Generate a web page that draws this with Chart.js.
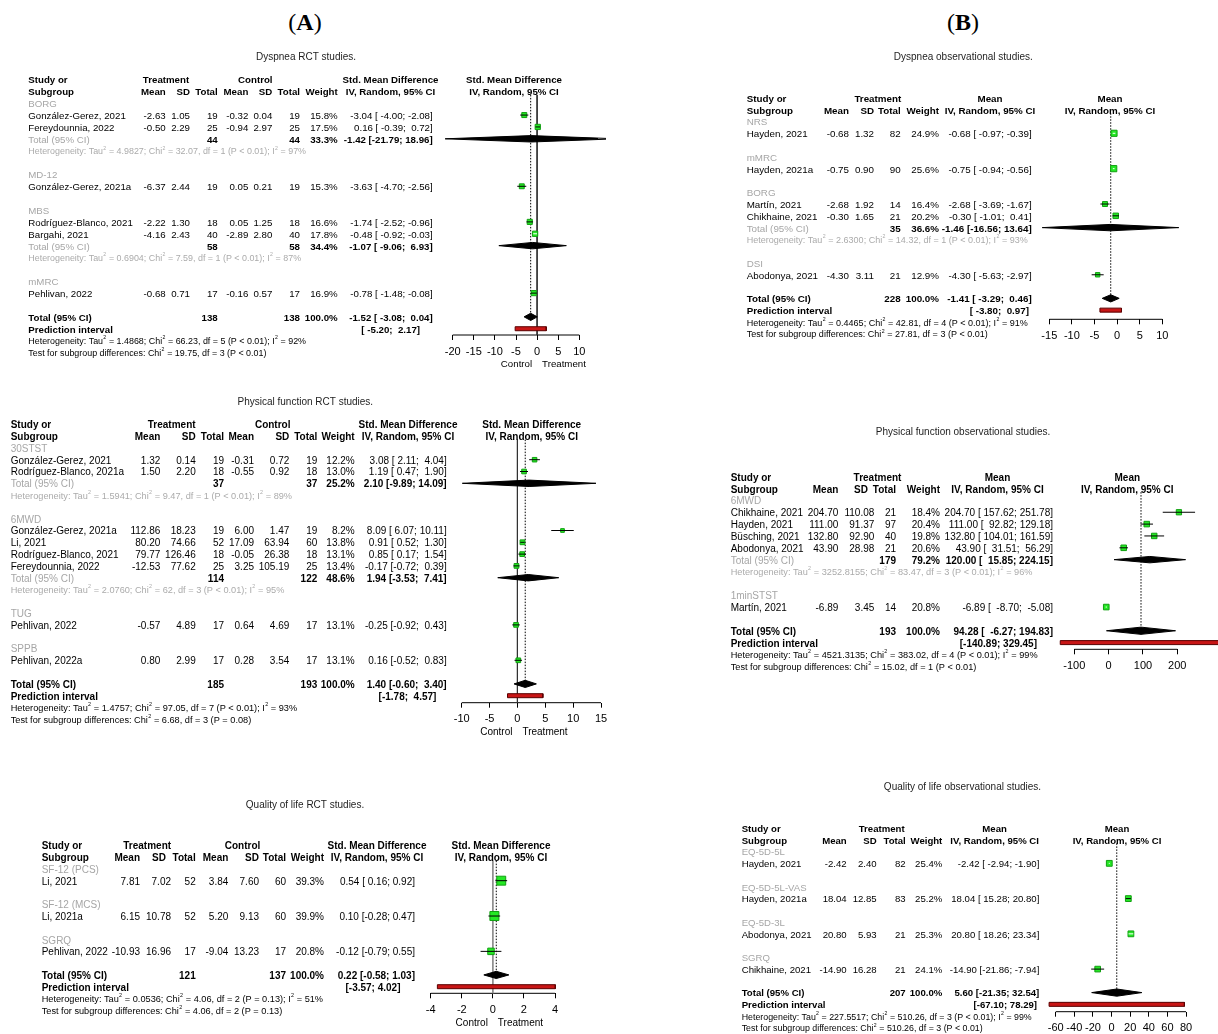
<!DOCTYPE html>
<html lang="en">
<head>
<meta charset="utf-8">
<title>Forest plots: RCT and observational studies</title>
<script src="https://cdn.jsdelivr.net/npm/chart.js@4.4.1/dist/chart.umd.min.js"></script>
<style>
  html, body { margin: 0; padding: 0; background: #fff; }
  body { width: 1218px; height: 1034px; position: relative; overflow: hidden; }
  canvas { position: absolute; }
  .tag { position: absolute; top: 9px; transform: translateX(-50%);
         font-family: "Liberation Serif", "Times New Roman", serif; font-size: 24px; line-height: 26px; color: #000; }
  .tag b { font-weight: bold; }
</style>
</head>
<body>
<div class="tag" style="left:305px">(<b>A</b>)</div>
<div class="tag" style="left:963px">(<b>B</b>)</div>
<canvas id="dysRct"></canvas>
<canvas id="pfRct"></canvas>
<canvas id="qolRct"></canvas>
<canvas id="dysObs"></canvas>
<canvas id="pfObs"></canvas>
<canvas id="qolObs"></canvas>
<script>
// ---------- Dyspnea, RCT studies ----------
const dysRctGroups = ['BORG', 'MD-12', 'MBS', 'mMRC'];
const dysRctStudies = ['González-Gerez, 2021', 'Fereydounnia, 2022', 'González-Gerez, 2021a', 'Rodríguez-Blanco, 2021', 'Bargahi, 2021', 'Pehlivan, 2022'];
const dysRctStudyGroup = [0, 0, 1, 2, 2, 3];
const dysRctTrtMean = [-2.63, -0.50, -6.37, -2.22, -4.16, -0.68];
const dysRctTrtSd = [1.05, 2.29, 2.44, 1.30, 2.43, 0.71];
const dysRctTrtN = [19, 25, 19, 18, 40, 17];
const dysRctCtlMean = [-0.32, -0.94, 0.05, 0.05, -2.89, -0.16];
const dysRctCtlSd = [0.04, 2.97, 0.21, 1.25, 2.80, 0.57];
const dysRctCtlN = [19, 25, 19, 18, 40, 17];
const dysRctWeight = [15.8, 17.5, 15.3, 16.6, 17.8, 16.9];
const dysRctEst = [-3.04, 0.16, -3.63, -1.74, -0.48, -0.78];
const dysRctLower = [-4.00, -0.39, -4.70, -2.52, -0.92, -1.48];
const dysRctUpper = [-2.08, 0.72, -2.56, -0.96, -0.03, -0.08];
const dysRctSubTrtN = [44, null, 58, null];
const dysRctSubCtlN = [44, null, 58, null];
const dysRctSubWeight = [33.3, null, 34.4, null];
const dysRctSubEst = [-1.42, null, -1.07, null];
const dysRctSubLower = [-21.79, null, -9.06, null];
const dysRctSubUpper = [18.96, null, 6.93, null];
const dysRctSubHet = ['Tau^2 = 4.9827; Chi^2 = 32.07, df = 1 (P < 0.01); I^2 = 97%', null,
                      'Tau^2 = 0.6904; Chi^2 = 7.59, df = 1 (P < 0.01); I^2 = 87%', null];
const dysRctTotalN = [138, 138];
const dysRctOverall = [-1.52, -3.08, 0.04];
const dysRctPredict = [-5.20, 2.17];
const dysRctHet = 'Tau^2 = 1.4868; Chi^2 = 66.23, df = 5 (P < 0.01); I^2 = 92%';
const dysRctTest = 'Chi^2 = 19.75, df = 3 (P < 0.01)';
const dysRctTicks = [-20, -15, -10, -5, 0, 5, 10];

// ---------- Physical function, RCT studies ----------
const pfRctGroups = ['30STST', '6MWD', 'TUG', 'SPPB'];
const pfRctStudies = ['González-Gerez, 2021', 'Rodríguez-Blanco, 2021a', 'González-Gerez, 2021a', 'Li, 2021', 'Rodríguez-Blanco, 2021', 'Fereydounnia, 2022', 'Pehlivan, 2022', 'Pehlivan, 2022a'];
const pfRctStudyGroup = [0, 0, 1, 1, 1, 1, 2, 3];
const pfRctTrtMean = [1.32, 1.50, 112.86, 80.20, 79.77, -12.53, -0.57, 0.80];
const pfRctTrtSd = [0.14, 2.20, 18.23, 74.66, 126.46, 77.62, 4.89, 2.99];
const pfRctTrtN = [19, 18, 19, 52, 18, 25, 17, 17];
const pfRctCtlMean = [-0.31, -0.55, 6.00, 17.09, -0.05, 3.25, 0.64, 0.28];
const pfRctCtlSd = [0.72, 0.92, 1.47, 63.94, 26.38, 105.19, 4.69, 3.54];
const pfRctCtlN = [19, 18, 19, 60, 18, 25, 17, 17];
const pfRctWeight = [12.2, 13.0, 8.2, 13.8, 13.1, 13.4, 13.1, 13.1];
const pfRctEst = [3.08, 1.19, 8.09, 0.91, 0.85, -0.17, -0.25, 0.16];
const pfRctLower = [2.11, 0.47, 6.07, 0.52, 0.17, -0.72, -0.92, -0.52];
const pfRctUpper = [4.04, 1.90, 10.11, 1.30, 1.54, 0.39, 0.43, 0.83];
const pfRctSubTrtN = [37, 114, null, null];
const pfRctSubCtlN = [37, 122, null, null];
const pfRctSubWeight = [25.2, 48.6, null, null];
const pfRctSubEst = [2.10, 1.94, null, null];
const pfRctSubLower = [-9.89, -3.53, null, null];
const pfRctSubUpper = [14.09, 7.41, null, null];
const pfRctSubHet = ['Tau^2 = 1.5941; Chi^2 = 9.47, df = 1 (P < 0.01); I^2 = 89%',
                     'Tau^2 = 2.0760; Chi^2 = 62, df = 3 (P < 0.01); I^2 = 95%', null, null];
const pfRctTotalN = [185, 193];
const pfRctOverall = [1.40, -0.60, 3.40];
const pfRctPredict = [-1.78, 4.57];
const pfRctHet = 'Tau^2 = 1.4757; Chi^2 = 97.05, df = 7 (P < 0.01); I^2 = 93%';
const pfRctTest = 'Chi^2 = 6.68, df = 3 (P = 0.08)';
const pfRctTicks = [-10, -5, 0, 5, 10, 15];

// ---------- Quality of life, RCT studies ----------
const qolRctGroups = ['SF-12 (PCS)', 'SF-12 (MCS)', 'SGRQ'];
const qolRctStudies = ['Li, 2021', 'Li, 2021a', 'Pehlivan, 2022'];
const qolRctStudyGroup = [0, 1, 2];
const qolRctTrtMean = [7.81, 6.15, -10.93];
const qolRctTrtSd = [7.02, 10.78, 16.96];
const qolRctTrtN = [52, 52, 17];
const qolRctCtlMean = [3.84, 5.20, -9.04];
const qolRctCtlSd = [7.60, 9.13, 13.23];
const qolRctCtlN = [60, 60, 17];
const qolRctWeight = [39.3, 39.9, 20.8];
const qolRctEst = [0.54, 0.10, -0.12];
const qolRctLower = [0.16, -0.28, -0.79];
const qolRctUpper = [0.92, 0.47, 0.55];
const qolRctTotalN = [121, 137];
const qolRctOverall = [0.22, -0.58, 1.03];
const qolRctPredict = [-3.57, 4.02];
const qolRctHet = 'Tau^2 = 0.0536; Chi^2 = 4.06, df = 2 (P = 0.13); I^2 = 51%';
const qolRctTest = 'Chi^2 = 4.06, df = 2 (P = 0.13)';
const qolRctTicks = [-4, -2, 0, 2, 4];

// ---------- Dyspnea, observational studies ----------
const dysObsGroups = ['NRS', 'mMRC', 'BORG', 'DSI'];
const dysObsStudies = ['Hayden, 2021', 'Hayden, 2021a', 'Martín, 2021', 'Chikhaine, 2021', 'Abodonya, 2021'];
const dysObsStudyGroup = [0, 1, 2, 2, 3];
const dysObsMean = [-0.68, -0.75, -2.68, -0.30, -4.30];
const dysObsSd = [1.32, 0.90, 1.92, 1.65, 3.11];
const dysObsN = [82, 90, 14, 21, 21];
const dysObsWeight = [24.9, 25.6, 16.4, 20.2, 12.9];
const dysObsEst = [-0.68, -0.75, -2.68, -0.30, -4.30];
const dysObsLower = [-0.97, -0.94, -3.69, -1.01, -5.63];
const dysObsUpper = [-0.39, -0.56, -1.67, 0.41, -2.97];
const dysObsSubN = [null, null, 35, null];
const dysObsSubWeight = [null, null, 36.6, null];
const dysObsSubEst = [null, null, -1.46, null];
const dysObsSubLower = [null, null, -16.56, null];
const dysObsSubUpper = [null, null, 13.64, null];
const dysObsSubHet = [null, null, 'Tau^2 = 2.6300; Chi^2 = 14.32, df = 1 (P < 0.01); I^2 = 93%', null];
const dysObsTotalN = [228];
const dysObsOverall = [-1.41, -3.29, 0.46];
const dysObsPredict = [-3.80, 0.97];
const dysObsHet = 'Tau^2 = 0.4465; Chi^2 = 42.81, df = 4 (P < 0.01); I^2 = 91%';
const dysObsTest = 'Chi^2 = 27.81, df = 3 (P < 0.01)';
const dysObsTicks = [-15, -10, -5, 0, 5, 10];

// ---------- Physical function, observational studies ----------
const pfObsGroups = ['6MWD', '1minSTST'];
const pfObsStudies = ['Chikhaine, 2021', 'Hayden, 2021', 'Büsching, 2021', 'Abodonya, 2021', 'Martín, 2021'];
const pfObsStudyGroup = [0, 0, 0, 0, 1];
const pfObsMean = [204.70, 111.00, 132.80, 43.90, -6.89];
const pfObsSd = [110.08, 91.37, 92.90, 28.98, 3.45];
const pfObsN = [21, 97, 40, 21, 14];
const pfObsWeight = [18.4, 20.4, 19.8, 20.6, 20.8];
const pfObsEst = [204.70, 111.00, 132.80, 43.90, -6.89];
const pfObsLower = [157.62, 92.82, 104.01, 31.51, -8.70];
const pfObsUpper = [251.78, 129.18, 161.59, 56.29, -5.08];
const pfObsSubN = [179, null];
const pfObsSubWeight = [79.2, null];
const pfObsSubEst = [120.00, null];
const pfObsSubLower = [15.85, null];
const pfObsSubUpper = [224.15, null];
const pfObsSubHet = ['Tau^2 = 3252.8155; Chi^2 = 83.47, df = 3 (P < 0.01); I^2 = 96%', null];
const pfObsTotalN = [193];
const pfObsOverall = [94.28, -6.27, 194.83];
const pfObsPredict = [-140.89, 329.45];
const pfObsHet = 'Tau^2 = 4521.3135; Chi^2 = 383.02, df = 4 (P < 0.01); I^2 = 99%';
const pfObsTest = 'Chi^2 = 15.02, df = 1 (P < 0.01)';
const pfObsTicks = [-100, 0, 100, 200];

// ---------- Quality of life, observational studies ----------
const qolObsGroups = ['EQ-5D-5L', 'EQ-5D-5L-VAS', 'EQ-5D-3L', 'SGRQ'];
const qolObsStudies = ['Hayden, 2021', 'Hayden, 2021a', 'Abodonya, 2021', 'Chikhaine, 2021'];
const qolObsStudyGroup = [0, 1, 2, 3];
const qolObsMean = [-2.42, 18.04, 20.80, -14.90];
const qolObsSd = [2.40, 12.85, 5.93, 16.28];
const qolObsN = [82, 83, 21, 21];
const qolObsWeight = [25.4, 25.2, 25.3, 24.1];
const qolObsEst = [-2.42, 18.04, 20.80, -14.90];
const qolObsLower = [-2.94, 15.28, 18.26, -21.86];
const qolObsUpper = [-1.90, 20.80, 23.34, -7.94];
const qolObsTotalN = [207];
const qolObsOverall = [5.60, -21.35, 32.54];
const qolObsPredict = [-67.10, 78.29];
const qolObsHet = 'Tau^2 = 227.5517; Chi^2 = 510.26, df = 3 (P < 0.01); I^2 = 99%';
const qolObsTest = 'Chi^2 = 510.26, df = 3 (P < 0.01)';
const qolObsTicks = [-60, -40, -20, 0, 20, 40, 60, 80];

const totalWeight = 100.0;

// ---------- panel assembly ----------
const FAMILY = '"Liberation Sans", Arial, Helvetica, sans-serif';
const GRAY = '#a6a6a6';
const none = n => new Array(n).fill(null);

// layout keys: box = side (px) of the heaviest study's square; inner = CI width (px)
// below which the CI is drawn in white inside the square
const panels = [
  { id: 'dysRct', title: 'Dyspnea RCT studies.', effect: 'Std. Mean Difference',
    groups: dysRctGroups, study: dysRctStudies, group: dysRctStudyGroup,
    trtMean: dysRctTrtMean, trtSd: dysRctTrtSd, trtN: dysRctTrtN,
    ctlMean: dysRctCtlMean, ctlSd: dysRctCtlSd, ctlN: dysRctCtlN,
    weight: dysRctWeight, est: dysRctEst, lower: dysRctLower, upper: dysRctUpper,
    subN: [dysRctSubTrtN, dysRctSubCtlN], subWeight: dysRctSubWeight, subEst: dysRctSubEst,
    subLower: dysRctSubLower, subUpper: dysRctSubUpper, subHet: dysRctSubHet,
    totalN: dysRctTotalN, overall: dysRctOverall, predict: dysRctPredict,
    het: dysRctHet, test: dysRctTest, ticks: dysRctTicks,
    lay: { L: 0, T: 40, W: 606, H: 332, row0: 103.2, sp: 11.87, axisY: 335, xLeft: 452.7, xRight: 579.3,
           fs: 9.7, textDy: 1.2, titleX: 306, titleY: 57, box: 5.3, inner: 4.2, nullLine: '#333',
           col: { label: 28.3, trtMean: 165.7, trtSd: 190, trtN: 217.7, ctlMean: 248.3, ctlSd: 272.3, ctlN: 300,
                  weight: 337.7, ci: 432.7, trtHead: 166, ctlHead: 255.3, effHead: 390.5, forest: 514,
                  pi: 390.7, piAlign: 'center' } } },
  { id: 'pfRct', title: 'Physical function RCT studies.', effect: 'Std. Mean Difference',
    groups: pfRctGroups, study: pfRctStudies, group: pfRctStudyGroup,
    trtMean: pfRctTrtMean, trtSd: pfRctTrtSd, trtN: pfRctTrtN,
    ctlMean: pfRctCtlMean, ctlSd: pfRctCtlSd, ctlN: pfRctCtlN,
    weight: pfRctWeight, est: pfRctEst, lower: pfRctLower, upper: pfRctUpper,
    subN: [pfRctSubTrtN, pfRctSubCtlN], subWeight: pfRctSubWeight, subEst: pfRctSubEst,
    subLower: pfRctSubLower, subUpper: pfRctSubUpper, subHet: pfRctSubHet,
    totalN: pfRctTotalN, overall: pfRctOverall, predict: pfRctPredict,
    het: pfRctHet, test: pfRctTest, ticks: pfRctTicks,
    lay: { L: 0, T: 390, W: 622, H: 350, row0: 447.9, sp: 11.8, axisY: 702.7, xLeft: 461.7, xRight: 601,
           fs: 10, textDy: 1.2, titleX: 305.3, titleY: 402.3, box: 4.8, inner: 4.0, nullLine: '#333',
           col: { label: 10.7, trtMean: 160.3, trtSd: 195.7, trtN: 224, ctlMean: 254, ctlSd: 289.3, ctlN: 317.3,
                  weight: 354.7, ci: 446.7, trtHead: 171.7, ctlHead: 272.7, effHead: 408, forest: 531.7,
                  pi: 407.5, piAlign: 'center' } } },
  { id: 'qolRct', title: 'Quality of life RCT studies.', effect: 'Std. Mean Difference',
    groups: qolRctGroups, study: qolRctStudies, group: qolRctStudyGroup,
    trtMean: qolRctTrtMean, trtSd: qolRctTrtSd, trtN: qolRctTrtN,
    ctlMean: qolRctCtlMean, ctlSd: qolRctCtlSd, ctlN: qolRctCtlN,
    weight: qolRctWeight, est: qolRctEst, lower: qolRctLower, upper: qolRctUpper,
    subN: [none(3), none(3)], subWeight: none(3), subEst: none(3), subLower: none(3), subUpper: none(3), subHet: none(3),
    totalN: qolRctTotalN, overall: qolRctOverall, predict: qolRctPredict,
    het: qolRctHet, test: qolRctTest, ticks: qolRctTicks,
    lay: { L: 0, T: 795, W: 604, H: 239, row0: 868.9, sp: 11.78, axisY: 993.3, xLeft: 430.7, xRight: 555,
           fs: 10, textDy: 1.2, titleX: 305, titleY: 805, box: 9, inner: 3, nullLine: '#8c8c8c',
           col: { label: 41.7, trtMean: 140, trtSd: 171, sdHead: 166, trtN: 195.7, ctlMean: 228.3, ctlSd: 259, ctlN: 286,
                  weight: 324, ci: 415, trtHead: 147.2, ctlHead: 242.5, effHead: 377, forest: 501,
                  pi: 373, piAlign: 'center' } } },
  { id: 'dysObs', title: 'Dyspnea observational studies.', effect: 'Mean',
    groups: dysObsGroups, study: dysObsStudies, group: dysObsStudyGroup,
    trtMean: dysObsMean, trtSd: dysObsSd, trtN: dysObsN,
    weight: dysObsWeight, est: dysObsEst, lower: dysObsLower, upper: dysObsUpper,
    subN: [dysObsSubN], subWeight: dysObsSubWeight, subEst: dysObsSubEst,
    subLower: dysObsSubLower, subUpper: dysObsSubUpper, subHet: dysObsSubHet,
    totalN: dysObsTotalN, overall: dysObsOverall, predict: dysObsPredict,
    het: dysObsHet, test: dysObsTest, ticks: dysObsTicks,
    lay: { L: 720, T: 40, W: 506, H: 305, row0: 121.5, sp: 11.79, axisY: 319.3, xLeft: 1049.3, xRight: 1162.3,
           fs: 9.8, textDy: 1.2, titleX: 963.3, titleY: 57.3, box: 6.2, inner: 3, nullLine: null,
           col: { label: 746.7, trtMean: 849, trtSd: 874, trtN: 900.7, weight: 939, ci: 1031.7,
                  trtHead: 877.8, effHead: 990, forest: 1110, pi: 1029, piAlign: 'right' } } },
  { id: 'pfObs', title: 'Physical function observational studies.', effect: 'Mean',
    groups: pfObsGroups, study: pfObsStudies, group: pfObsStudyGroup,
    trtMean: pfObsMean, trtSd: pfObsSd, trtN: pfObsN,
    weight: pfObsWeight, est: pfObsEst, lower: pfObsLower, upper: pfObsUpper,
    subN: [pfObsSubN], subWeight: pfObsSubWeight, subEst: pfObsSubEst,
    subLower: pfObsSubLower, subUpper: pfObsSubUpper, subHet: pfObsSubHet,
    totalN: pfObsTotalN, overall: pfObsOverall, predict: pfObsPredict,
    het: pfObsHet, test: pfObsTest, ticks: pfObsTicks,
    lay: { L: 720, T: 420, W: 506, H: 260, row0: 500.4, sp: 11.85, axisY: 649.3, xLeft: 1074.3, xRight: 1177.3,
           fs: 10, textDy: 1.2, titleX: 963, titleY: 432.3, box: 5.6, inner: 3, nullLine: null,
           col: { label: 730.7, trtMean: 838.3, trtSd: 874.3, sdHead: 868, trtN: 896, weight: 940, ci: 1053,
                  trtHead: 877.5, effHead: 997.5, forest: 1127.3, pi: 1037, piAlign: 'right' } } },
  { id: 'qolObs', title: 'Quality of life observational studies.', effect: 'Mean',
    groups: qolObsGroups, study: qolObsStudies, group: qolObsStudyGroup,
    trtMean: qolObsMean, trtSd: qolObsSd, trtN: qolObsN,
    weight: qolObsWeight, est: qolObsEst, lower: qolObsLower, upper: qolObsUpper,
    subN: [none(4)], subWeight: none(4), subEst: none(4), subLower: none(4), subUpper: none(4), subHet: none(4),
    totalN: qolObsTotalN, overall: qolObsOverall, predict: qolObsPredict,
    het: qolObsHet, test: qolObsTest, ticks: qolObsTicks,
    lay: { L: 720, T: 775, W: 506, H: 259, row0: 851.6, sp: 11.75, axisY: 1011.7, xLeft: 1055.7, xRight: 1186,
           fs: 9.6, textDy: 1.2, titleX: 962.5, titleY: 787.3, box: 5.8, inner: 4.9, nullLine: null,
           col: { label: 741.7, trtMean: 846.7, trtSd: 876.7, trtN: 905.7, weight: 942.3, ci: 1039.3,
                  trtHead: 881.7, effHead: 994.6, forest: 1117, pi: 1037, piAlign: 'right' } } }
];

// ---------- helpers ----------
const f2 = v => v.toFixed(2);
const pct = v => v.toFixed(1) + '%';
const fontOf = (size, bold) => (bold ? 'bold ' : '') + size + 'px ' + FAMILY;

function put(ctx, s, x, y, o) {
  ctx.font = fontOf(o.size, o.bold);
  ctx.fillStyle = o.color || '#000';
  ctx.textAlign = o.align || 'left';
  ctx.textBaseline = 'middle';
  ctx.fillText(String(s), x, y);
}

// text with "^2" rendered as a small raised 2
function putRich(ctx, s, x, y, size, color) {
  ctx.textAlign = 'left';
  ctx.textBaseline = 'middle';
  ctx.fillStyle = color;
  const parts = s.split('^2');
  let cx = x;
  parts.forEach((part, k) => {
    ctx.font = fontOf(size);
    ctx.fillText(part, cx, y);
    cx += ctx.measureText(part).width;
    if (k < parts.length - 1) {
      ctx.font = fontOf(+(size * 0.58).toFixed(2));
      cx += 0.3;
      ctx.fillText('2', cx, y - size * 0.42);
      cx += ctx.measureText('2').width + 0.2;
    }
  });
}

// row layout: group label, studies, subgroup total + heterogeneity (2+ studies), blank line
function buildRows(p) {
  const rows = [];
  let r = 0;
  p.groups.forEach((g, gi) => {
    rows.push({ type: 'group', r: r++, gi });
    const idx = p.group.map((v, i) => (v === gi ? i : -1)).filter(i => i >= 0);
    idx.forEach(i => rows.push({ type: 'study', r: r++, i }));
    if (idx.length > 1) {
      rows.push({ type: 'subtotal', r: r++, gi });
      rows.push({ type: 'subhet', r: r++, gi });
    }
    r++;
  });
  ['total', 'pi', 'het', 'test'].forEach(t => rows.push({ type: t, r: r++ }));
  return rows;
}

// interval text padded like fixed-width columns
function ciFormatter(p) {
  const lows = [...p.lower, ...p.subLower.filter(v => v !== null), p.overall[1], p.predict[0]].map(f2);
  const highs = [...p.upper, ...p.subUpper.filter(v => v !== null), p.overall[2], p.predict[1]].map(f2);
  const wl = Math.max(...lows.map(s => s.length));
  const wh = Math.max(...highs.map(s => s.length));
  const iv = (lo, hi) => '[' + f2(lo).padStart(wl) + '; ' + f2(hi).padStart(wh) + ']';
  return { ci: (e, lo, hi) => f2(e) + ' ' + iv(lo, hi), iv };
}

function buildDatasets(p, rows) {
  const lay = p.lay;
  const ds = [];
  const maxW = Math.max(...p.weight);
  const side = i => lay.box * Math.sqrt(p.weight[i] / maxW);
  const totalRow = rows.find(r => r.type === 'total').r;
  const piRow = rows.find(r => r.type === 'pi').r;
  const axisRow = (lay.axisY - lay.row0) / lay.sp;
  const t = p.ticks;
  const line = (data, extra) => Object.assign({ type: 'line', data, pointRadius: 0, borderWidth: 1,
    borderColor: '#000', tension: 0, clip: false, fill: false }, extra);

  // axis baseline spanning the tick range
  ds.push(line([{ x: t[0], y: axisRow }, { x: t[t.length - 1], y: axisRow }], { order: 11 }));
  if (lay.nullLine) ds.push(line([{ x: 0, y: -0.7 }, { x: 0, y: axisRow }], { borderColor: lay.nullLine, order: 10 }));
  ds.push(line([{ x: p.overall[0], y: -0.7 }, { x: p.overall[0], y: totalRow + 0.3 }],
    { borderDash: [1.5, 1.5], order: 9 }));

  const studyRows = rows.filter(r => r.type === 'study');
  ds.push({ type: 'scatter', data: studyRows.map(r => ({ x: p.est[r.i], y: r.r })),
    pointStyle: 'rect', pointRadius: studyRows.map(r => side(r.i) / Math.SQRT2),
    pointBackgroundColor: '#25e825', pointBorderColor: '#12a012', pointBorderWidth: 1, clip: false, order: 5 });

  studyRows.forEach(r => {
    ds.push(line([{ x: p.lower[r.i], y: r.r }, { x: p.upper[r.i], y: r.r }],
      { segment: { borderColor: c => (c.p1.x - c.p0.x < lay.inner ? '#ffffff' : '#000000') }, order: 4 }));
  });

  const diamond = (e, lo, hi, r, halfPx) => {
    const h = halfPx / lay.sp;
    return line([{ x: lo, y: r }, { x: e, y: r - h }, { x: hi, y: r }, { x: e, y: r + h }, { x: lo, y: r }],
      { backgroundColor: '#000', fill: 'shape', order: 3 });
  };
  rows.filter(r => r.type === 'subtotal').forEach(r =>
    ds.push(diamond(p.subEst[r.gi], p.subLower[r.gi], p.subUpper[r.gi], r.r, 3.2)));
  ds.push(diamond(p.overall[0], p.overall[1], p.overall[2], totalRow, 3.6));

  const hb = 2 / lay.sp;
  ds.push(line([{ x: p.predict[0], y: piRow - hb }, { x: p.predict[1], y: piRow - hb },
                { x: p.predict[1], y: piRow + hb }, { x: p.predict[0], y: piRow + hb },
                { x: p.predict[0], y: piRow - hb }],
    { backgroundColor: '#c81616', borderColor: '#5a0000', fill: 'shape', order: 2 }));
  return ds;
}

function drawTable(chart, p, rows) {
  const lay = p.lay, c = lay.col, fs = lay.fs, hs = +(fs * 0.92).toFixed(2);
  const ctx = chart.ctx, ys = chart.scales.y, xs = chart.scales.x;
  const fmt = ciFormatter(p);
  const rct = !!p.ctlMean;
  const Y = r => ys.getPixelForValue(r) + lay.T + lay.textDy;
  const N = { size: fs }, B = { size: fs, bold: true };
  const R = o => Object.assign({ align: 'right' }, o);
  const C = o => Object.assign({ align: 'center' }, o);

  ctx.save();
  ctx.translate(-lay.L, -lay.T);
  put(ctx, p.title, lay.titleX, lay.titleY, { size: 10, align: 'center', color: '#1e1e1e' });

  put(ctx, 'Study or', c.label, Y(-2), B);
  put(ctx, 'Subgroup', c.label, Y(-1), B);
  put(ctx, 'Treatment', c.trtHead, Y(-2), C(B));
  put(ctx, 'Mean', c.trtMean, Y(-1), R(B));
  put(ctx, 'SD', c.sdHead || c.trtSd, Y(-1), R(B));
  put(ctx, 'Total', c.trtN, Y(-1), R(B));
  if (rct) {
    put(ctx, 'Control', c.ctlHead, Y(-2), C(B));
    put(ctx, 'Mean', c.ctlMean, Y(-1), R(B));
    put(ctx, 'SD', c.ctlSd, Y(-1), R(B));
    put(ctx, 'Total', c.ctlN, Y(-1), R(B));
  }
  put(ctx, 'Weight', c.weight, Y(-1), R(B));
  put(ctx, p.effect, c.effHead, Y(-2), C(B));
  put(ctx, 'IV, Random, 95% CI', c.effHead, Y(-1), C(B));
  put(ctx, p.effect, c.forest, Y(-2), C(B));
  put(ctx, 'IV, Random, 95% CI', c.forest, Y(-1), C(B));

  rows.forEach(row => {
    const y = Y(row.r);
    if (row.type === 'group') {
      put(ctx, p.groups[row.gi], c.label, y, { size: fs, color: GRAY });
    } else if (row.type === 'study') {
      const i = row.i;
      put(ctx, p.study[i], c.label, y, N);
      put(ctx, f2(p.trtMean[i]), c.trtMean, y, R(N));
      put(ctx, f2(p.trtSd[i]), c.trtSd, y, R(N));
      put(ctx, p.trtN[i], c.trtN, y, R(N));
      if (rct) {
        put(ctx, f2(p.ctlMean[i]), c.ctlMean, y, R(N));
        put(ctx, f2(p.ctlSd[i]), c.ctlSd, y, R(N));
        put(ctx, p.ctlN[i], c.ctlN, y, R(N));
      }
      put(ctx, pct(p.weight[i]), c.weight, y, R(N));
      put(ctx, fmt.ci(p.est[i], p.lower[i], p.upper[i]), c.ci, y, R(N));
    } else if (row.type === 'subtotal') {
      const g = row.gi;
      put(ctx, 'Total (95% CI)', c.label, y, { size: fs, color: GRAY });
      put(ctx, p.subN[0][g], c.trtN, y, R(B));
      if (rct) put(ctx, p.subN[1][g], c.ctlN, y, R(B));
      put(ctx, pct(p.subWeight[g]), c.weight, y, R(B));
      put(ctx, fmt.ci(p.subEst[g], p.subLower[g], p.subUpper[g]), c.ci, y, R(B));
    } else if (row.type === 'subhet') {
      putRich(ctx, 'Heterogeneity: ' + p.subHet[row.gi], c.label, y, hs, '#ababab');
    } else if (row.type === 'total') {
      put(ctx, 'Total (95% CI)', c.label, y, B);
      put(ctx, p.totalN[0], c.trtN, y, R(B));
      if (rct) put(ctx, p.totalN[1], c.ctlN, y, R(B));
      put(ctx, pct(totalWeight), c.weight, y, R(B));
      put(ctx, fmt.ci(p.overall[0], p.overall[1], p.overall[2]), c.ci, y, R(B));
    } else if (row.type === 'pi') {
      put(ctx, 'Prediction interval', c.label, y, B);
      put(ctx, fmt.iv(p.predict[0], p.predict[1]), c.pi, y, Object.assign({ align: c.piAlign }, B));
    } else if (row.type === 'het') {
      putRich(ctx, 'Heterogeneity: ' + p.het, c.label, y, hs, '#000');
    } else if (row.type === 'test') {
      putRich(ctx, 'Test for subgroup differences: ' + p.test, c.label, y, hs, '#000');
    }
  });

  if (rct) {
    const x0 = xs.getPixelForValue(0) + lay.L;
    put(ctx, 'Control', x0 - 5, lay.axisY + 29.5, R(N));
    put(ctx, 'Treatment', x0 + 5, lay.axisY + 29.5, N);
  }
  ctx.restore();
}

panels.forEach(p => {
  const lay = p.lay;
  const rows = buildRows(p);
  const canvas = document.getElementById(p.id);
  canvas.width = lay.W;
  canvas.height = lay.H;
  canvas.style.left = lay.L + 'px';
  canvas.style.top = lay.T + 'px';
  const AXIS_H = 20;
  const LEFT_ROOM = 24;        // plotting room left of the first tick (px)
  const RIGHT_PAD = 8;         // canvas margin right of the plotting area (px)
  const yMin = -3;
  const yMax = (lay.axisY - lay.row0) / lay.sp;
  const ticks = p.ticks;
  const t0 = ticks[0], t1 = ticks[ticks.length - 1];
  const perUnit = (lay.xRight - lay.xLeft) / (t1 - t0);
  const areaRight = lay.L + lay.W - RIGHT_PAD;
  const xMin = t0 - LEFT_ROOM / perUnit;
  const xMax = t1 + (areaRight - lay.xRight) / perUnit;

  new Chart(canvas, {
    type: 'scatter',
    data: { datasets: buildDatasets(p, rows) },
    options: {
      responsive: false,
      animation: false,
      devicePixelRatio: 1,
      events: [],
      layout: { padding: {
        left: lay.xLeft - LEFT_ROOM - lay.L,
        right: RIGHT_PAD,
        top: lay.row0 + yMin * lay.sp - lay.T,
        bottom: lay.T + lay.H - lay.axisY - AXIS_H } },
      plugins: { legend: { display: false }, tooltip: { enabled: false }, title: { display: false } },
      scales: {
        x: {
          type: 'linear', min: xMin, max: xMax,
          afterBuildTicks: s => { s.ticks = ticks.map(v => ({ value: v })); },
          afterFit: s => { s.height = AXIS_H; },
          border: { display: false },
          grid: { drawOnChartArea: false, drawTicks: true, tickLength: 5, color: '#000', lineWidth: 1 },
          ticks: { autoSkip: false, maxRotation: 0, padding: 5, color: '#000',
                   font: { family: FAMILY, size: 11 }, callback: v => String(v) }
        },
        y: { type: 'linear', display: false, reverse: true, min: yMin, max: yMax }
      }
    },
    plugins: [{ id: 'forestTable', afterDraw: chart => drawTable(chart, p, rows) }]
  });
});
</script>
</body>
</html>
